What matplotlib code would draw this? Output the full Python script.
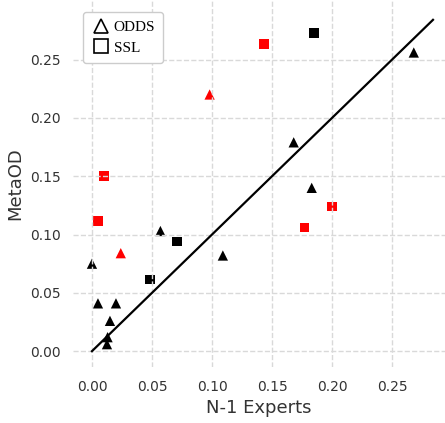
import matplotlib
matplotlib.use("Agg")
import matplotlib.pyplot as plt
from matplotlib.lines import Line2D
import numpy as np

# ODDS datasets (triangles)
odds_x = [0.098, 0.024, 0.000, 0.057, 0.109, 0.005, 0.020, 0.015, 0.013, 0.0125, 0.268, 0.168, 0.183]
odds_y = [0.220, 0.084, 0.075, 0.103, 0.082, 0.041, 0.041, 0.026, 0.012, 0.006, 0.256, 0.179, 0.140]
odds_red = [True, True, False, False, False, False, False, False, False, False, False, False, False]

# SSL datasets (squares)
ssl_x = [0.010, 0.005, 0.143, 0.200, 0.177, 0.185, 0.071, 0.048]
ssl_y = [0.150, 0.1115, 0.263, 0.124, 0.106, 0.273, 0.094, 0.0615]
ssl_red = [True, True, True, True, True, False, False, False]

line_end = 0.284

fig = plt.figure(figsize=(4.45, 4.23), dpi=100)
ax = fig.add_axes([0.164, 0.132, 0.836, 0.868])

odds_c = ['red' if r else 'black' for r in odds_red]
ssl_c = ['red' if r else 'black' for r in ssl_red]
ax.scatter(odds_x, odds_y, marker='^', s=55, c=odds_c, linewidths=0, zorder=1)
ax.scatter(ssl_x, ssl_y, marker='s', s=50, c=ssl_c, linewidths=0, zorder=1)

# y = x reference line
ax.plot([0, line_end], [0, line_end], color='black', lw=1.6, zorder=3)

ax.set_xlim(-0.0158, 0.294)
ax.set_ylim(-0.0137, 0.301)
ax.set_xticks(np.arange(0, 0.26, 0.05))
ax.set_yticks(np.arange(0, 0.26, 0.05))
ax.xaxis.set_major_formatter(matplotlib.ticker.FormatStrFormatter('%.2f'))
ax.yaxis.set_major_formatter(matplotlib.ticker.FormatStrFormatter('%.2f'))

ax.set_axisbelow(False)
ax.grid(True, linestyle='--', color='#d9d9d9', lw=1.0, zorder=2)
for s in ax.spines.values():
    s.set_visible(False)
ax.tick_params(length=0, labelsize=10, colors='#333333', pad=9)

ax.set_xlabel("N-1 Experts", fontsize=13, color='#333333', labelpad=4)
ax.set_ylabel("MetaOD", fontsize=13, color='#333333', labelpad=4)

handles = [
    Line2D([], [], marker='^', ls='none', markersize=10, markerfacecolor='white',
           markeredgecolor='black', markeredgewidth=1.2, label='ODDS'),
    Line2D([], [], marker='s', ls='none', markersize=10, markerfacecolor='white',
           markeredgecolor='black', markeredgewidth=1.2, label='SSL'),
]
leg = ax.legend(handles=handles, loc='upper left', bbox_to_anchor=(0.027, 0.967),
                borderaxespad=0,
                prop={'family': 'Liberation Serif', 'size': 11},
                handlelength=1.3, handletextpad=0.15, borderpad=0.55,
                labelspacing=0.45, framealpha=1, edgecolor='#cccccc')
leg.set_zorder(5)

fig.savefig("out.png", dpi=100)
